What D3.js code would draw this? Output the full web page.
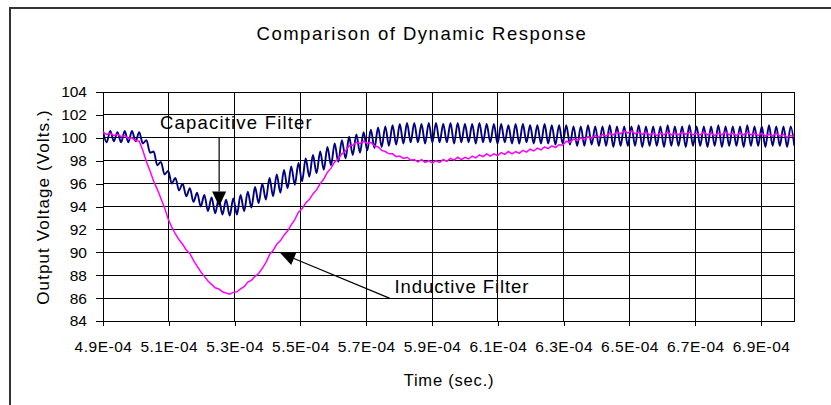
<!DOCTYPE html>
<html>
<head>
<meta charset="utf-8">
<script src="https://cdn.jsdelivr.net/npm/d3@7"></script>
<style>
  body { margin: 0; background: #fff; }
  svg { display: block; }
  text { font-family: "Liberation Sans", Arial, sans-serif; fill: #000; }
</style>
</head>
<body>
<svg id="chart" width="831" height="405"></svg>
<script>
// Sampling of the simulated output: one ripple cycle per entry
const tStart = 4.9e-4;
const ripplePeriod = 2.2e-6;

// Capacitive filter: ripple crest and trough of each cycle (V)
const capHigh = [
  100.6,100.6,100.5,100.6,100.6,100.5,99.8,98.8,97.9,97.1,
  96.5,96.0,95.6,95.2,95.0,94.8,94.7,94.6,94.7,95.0,
  95.3,95.7,96.0,96.5,96.8,97.2,97.5,97.8,98.2,98.5,
  98.8,99.2,99.5,99.8,100.1,100.3,100.5,100.7,100.9,101.0,
  101.1,101.2,101.3,101.3,101.2,101.3,101.3,101.2,101.3,101.3,
  101.2,101.2,101.3,101.2,101.2,101.2,101.1,101.2,101.2,101.1,
  101.1,101.2,101.1,101.1,101.1,101.0,101.0,101.1,101.0,101.0,
  101.1,101.0,101.0,101.0,101.1,101.0,101.0,101.0,101.1,101.0,
  101.0,101.1,101.0,101.0,101.0,101.1,101.0,101.0,101.0,101.1,
  101.0,101.0,101.1,101.0,101.0,101.0
];
const capLow = [
  99.6,99.7,99.6,99.6,99.7,99.5,98.7,97.6,96.8,96.0,
  95.4,94.9,94.4,94.0,93.6,93.4,93.3,93.2,93.3,93.6,
  93.9,94.3,94.6,94.9,95.2,95.6,95.9,96.2,96.6,96.9,
  97.2,97.6,97.9,98.2,98.5,98.7,98.9,99.1,99.2,99.3,
  99.4,99.5,99.6,99.6,99.5,99.6,99.6,99.6,99.5,99.6,
  99.6,99.5,99.6,99.6,99.5,99.6,99.5,99.5,99.6,99.5,
  99.5,99.5,99.4,99.5,99.4,99.3,99.3,99.4,99.3,99.3,
  99.2,99.3,99.3,99.3,99.2,99.3,99.3,99.2,99.3,99.3,
  99.2,99.3,99.3,99.2,99.3,99.2,99.3,99.3,99.2,99.3,
  99.3,99.2,99.3,99.3,99.2,99.3
];
// Inductive filter: output at the start and the middle of each cycle (V)
const indVals = [
  100.5,100.4,100.3,100.2,100.0,99.7,97.9,96.2,94.7,92.9,
  91.6,90.7,89.9,88.8,87.9,87.2,86.8,86.45,86.5,86.8,
  87.4,87.9,88.6,89.8,90.7,91.5,92.4,93.5,94.3,95.1,
  96.0,97.0,97.9,98.6,99.3,99.6,99.7,99.6,99.2,98.8,
  98.6,98.4,98.3,98.1,98.1,98.0,98.0,98.1,98.2,98.3,
  98.3,98.4,98.5,98.6,98.6,98.7,98.8,98.8,98.9,99.0,
  99.1,99.2,99.3,99.4,99.7,99.9,100.0,100.1,100.2,100.3,
  100.4,100.5,100.6,100.6,100.5,100.5,100.4,100.4,100.5,100.4,
  100.5,100.5,100.4,100.5,100.4,100.4,100.5,100.4,100.4,100.5,
  100.4,100.4,100.3,100.4,100.3,100.2
];
const indMid = [
  100.3,100.2,100.1,99.95,99.75,98.9,97.1,95.5,93.9,92.2,
  91.1,90.2,89.3,88.3,87.5,86.9,86.55,86.35,86.55,87.0,
  87.55,88.15,89.1,90.15,91.0,91.85,92.85,93.8,94.6,95.45,
  96.4,97.35,98.15,98.85,99.35,99.5,99.5,99.3,98.9,98.6,
  98.35,98.2,98.05,97.9,97.85,97.8,97.85,97.95,98.05,98.1,
  98.15,98.25,98.35,98.4,98.45,98.55,98.6,98.65,98.75,98.85,
  98.95,99.05,99.15,99.35,99.6,99.75,99.85,99.95,100.05,100.15,
  100.25,100.35,100.4,100.35,100.3,100.25,100.2,100.25,100.25,100.25,
  100.3,100.25,100.25,100.25,100.2,100.25,100.25,100.2,100.25,100.25,
  100.2,100.15,100.15,100.15,100.05,100.1
];

const xTickValues = [4.9e-4,5.1e-4,5.3e-4,5.5e-4,5.7e-4,5.9e-4,6.1e-4,6.3e-4,6.5e-4,6.7e-4,6.9e-4];
const xTickLabels = ["4.9E-04","5.1E-04","5.3E-04","5.5E-04","5.7E-04","5.9E-04","6.1E-04","6.3E-04","6.5E-04","6.7E-04","6.9E-04"];
const yTickValues = [84,86,88,90,92,94,96,98,100,102,104];

const svg = d3.select("#chart");
const plot = { left: 103, right: 794, top: 92, bottom: 321 };

const x = d3.scaleLinear().domain([4.9e-4, 7.0e-4]).range([plot.left, plot.right]);
const y = d3.scaleLinear().domain([84, 104]).range([plot.bottom, plot.top]);

// outer chart frame (runs past the right and bottom edges)
svg.append("rect")
  .attr("x", 10).attr("y", 8).attr("width", 900).attr("height", 500)
  .attr("fill", "none").attr("stroke", "#333").attr("stroke-width", 2);

// title
svg.append("text")
  .attr("x", 422).attr("y", 40)
  .attr("text-anchor", "middle")
  .attr("font-size", 18.5).attr("letter-spacing", 1.5)
  .text("Comparison of Dynamic Response");

// grid
const grid = svg.append("g").attr("shape-rendering", "crispEdges").attr("stroke", "#000");
grid.selectAll(".h").data(yTickValues).join("line")
  .attr("x1", plot.left).attr("x2", plot.right)
  .attr("y1", d => y(d)).attr("y2", d => y(d));
grid.selectAll(".v").data(xTickValues).join("line")
  .attr("x1", d => x(d)).attr("x2", d => x(d))
  .attr("y1", plot.top).attr("y2", plot.bottom);
grid.append("rect")
  .attr("x", plot.left).attr("y", plot.top)
  .attr("width", plot.right - plot.left).attr("height", plot.bottom - plot.top)
  .attr("fill", "none");

// axes
const xAxis = d3.axisBottom(x).tickValues(xTickValues)
  .tickFormat((d, i) => xTickLabels[i]).tickSizeInner(5).tickSizeOuter(0).tickPadding(15);
const gx = svg.append("g").attr("transform", `translate(0,${plot.bottom})`).call(xAxis);
gx.select(".domain").attr("stroke", "#000").attr("shape-rendering", "crispEdges");
gx.selectAll(".tick line").attr("stroke", "#000").attr("shape-rendering", "crispEdges");
gx.selectAll(".tick text").attr("font-size", 15.5).attr("letter-spacing", 0.5)
  .attr("font-family", '"Liberation Sans", Arial, sans-serif').attr("fill", "#000");

const yAxis = d3.axisLeft(y).tickValues(yTickValues)
  .tickSizeInner(7).tickSizeOuter(0).tickPadding(9);
const gy = svg.append("g").attr("transform", `translate(${plot.left},0)`).call(yAxis);
gy.select(".domain").attr("stroke", "#000").attr("shape-rendering", "crispEdges");
gy.selectAll(".tick line").attr("stroke", "#000").attr("shape-rendering", "crispEdges");
gy.selectAll(".tick text").attr("font-size", 15.5)
  .attr("font-family", '"Liberation Sans", Arial, sans-serif').attr("fill", "#000");

// axis titles
svg.append("text")
  .attr("x", 449).attr("y", 386)
  .attr("text-anchor", "middle")
  .attr("font-size", 16.5).attr("letter-spacing", 0.8)
  .text("Time (sec.)");
svg.append("text")
  .attr("transform", "translate(49,207) rotate(-90)")
  .attr("text-anchor", "middle")
  .attr("font-size", 17).attr("letter-spacing", 1.1)
  .text("Output Voltage (Volts.)");

// series
svg.append("defs").append("clipPath").attr("id", "plotClip")
  .append("rect").attr("x", plot.left).attr("y", plot.top - 2)
  .attr("width", plot.right - plot.left).attr("height", plot.bottom - plot.top + 4);

const capPoints = [];
capHigh.forEach((v, i) => {
  capPoints.push([tStart + i * ripplePeriod, v]);
  capPoints.push([tStart + (i + 0.5) * ripplePeriod, capLow[i]]);
});
const indPoints = [];
indVals.forEach((v, i) => {
  indPoints.push([tStart + i * ripplePeriod, v]);
  indPoints.push([tStart + (i + 0.5) * ripplePeriod, indMid[i]]);
});

const series = svg.append("g").attr("clip-path", "url(#plotClip)");
series.append("path")
  .datum(capPoints)
  .attr("fill", "none").attr("stroke", "#000080").attr("stroke-width", 1.9)
  .attr("stroke-linejoin", "round")
  .attr("d", d3.line().curve(d3.curveMonotoneX).x(d => x(d[0])).y(d => y(d[1])));
series.append("path")
  .datum(indPoints)
  .attr("fill", "none").attr("stroke", "#ff00ff").attr("stroke-width", 1.5)
  .attr("d", d3.line().x(d => x(d[0])).y(d => y(d[1])));

// annotations
function arrow(from, to) {
  const x1 = x(from[0]), y1 = y(from[1]), x2 = x(to[0]), y2 = y(to[1]);
  const a = Math.atan2(y2 - y1, x2 - x1);
  const len = 15, half = 7;
  const bx = x2 - len * Math.cos(a), by = y2 - len * Math.sin(a);
  svg.append("line").attr("x1", x1).attr("y1", y1).attr("x2", bx).attr("y2", by)
    .attr("stroke", "#000").attr("stroke-width", 1.2);
  svg.append("path")
    .attr("d", `M${x2},${y2}L${bx + half * Math.sin(a)},${by - half * Math.cos(a)}L${bx - half * Math.sin(a)},${by + half * Math.cos(a)}Z`)
    .attr("fill", "#000");
}
svg.append("text")
  .attr("x", x(5.073e-4)).attr("y", 129)
  .attr("font-size", 18.5).attr("letter-spacing", 1.2)
  .text("Capacitive Filter");
arrow([5.253e-4, 100.0], [5.253e-4, 94.0]);

svg.append("text")
  .attr("x", x(5.786e-4)).attr("y", 293)
  .attr("font-size", 18.5).attr("letter-spacing", 0.9)
  .text("Inductive Filter");
arrow([5.772e-4, 85.98], [5.438e-4, 89.96]);
</script>
</body>
</html>
